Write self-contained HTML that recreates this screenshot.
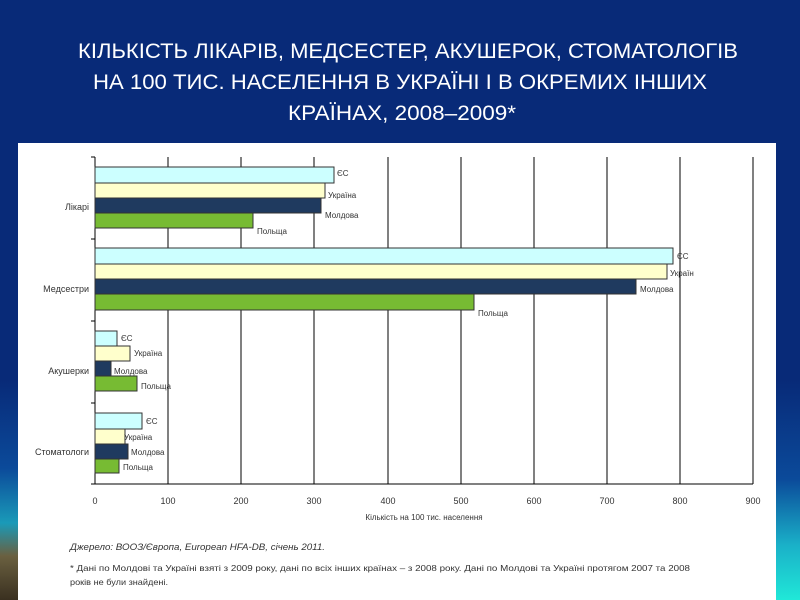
<!DOCTYPE html>
<html><head><meta charset="utf-8"><style>
html,body{margin:0;padding:0;width:800px;height:600px;overflow:hidden}
body{background:#082a78}
svg{display:block}
text{font-family:"Liberation Sans",sans-serif}
</style></head><body>
<svg width="800" height="600" xmlns="http://www.w3.org/2000/svg">
<defs>
<linearGradient id="lb" x1="0" y1="0" x2="0" y2="1"><stop offset="0" stop-color="#082a78"/><stop offset="0.4" stop-color="#0b4a9a"/><stop offset="0.65" stop-color="#1a9ab8"/><stop offset="0.8" stop-color="#6a6040"/><stop offset="1" stop-color="#3a3020"/></linearGradient>
<linearGradient id="rb" x1="0" y1="0" x2="0" y2="1"><stop offset="0" stop-color="#082a78"/><stop offset="0.45" stop-color="#0b4a9a"/><stop offset="0.75" stop-color="#1ab0c8"/><stop offset="1" stop-color="#20e8d8"/></linearGradient>
</defs>
<rect x="0" y="380" width="18" height="220" fill="url(#lb)"/>
<rect x="776" y="380" width="24" height="220" fill="url(#rb)"/>
<g fill="#fff" font-size="21" text-anchor="middle">
<text x="408" y="58" textLength="660" lengthAdjust="spacingAndGlyphs">КІЛЬКІСТЬ ЛІКАРІВ, МЕДСЕСТЕР, АКУШЕРОК, СТОМАТОЛОГІВ</text>
<text x="400" y="89" textLength="614" lengthAdjust="spacingAndGlyphs">НА 100 ТИС. НАСЕЛЕННЯ В УКРАЇНІ І В ОКРЕМИХ ІНШИХ</text>
<text x="402" y="120" textLength="228" lengthAdjust="spacingAndGlyphs">КРАЇНАХ, 2008–2009*</text>
</g>
<rect x="18" y="143" width="758" height="457" fill="#fff"/>
<g stroke="#000" stroke-width="1">
<line x1="168" y1="157" x2="168" y2="484"/><line x1="241" y1="157" x2="241" y2="484"/><line x1="314" y1="157" x2="314" y2="484"/><line x1="388" y1="157" x2="388" y2="484"/><line x1="461" y1="157" x2="461" y2="484"/><line x1="534" y1="157" x2="534" y2="484"/><line x1="607" y1="157" x2="607" y2="484"/><line x1="680" y1="157" x2="680" y2="484"/><line x1="753" y1="157" x2="753" y2="484"/>
<line x1="95" y1="157" x2="95" y2="484"/><line x1="95" y1="484" x2="753" y2="484"/>
<line x1="91" y1="157" x2="95" y2="157"/><line x1="91" y1="239" x2="95" y2="239"/><line x1="91" y1="321" x2="95" y2="321"/><line x1="91" y1="403" x2="95" y2="403"/><line x1="91" y1="484" x2="95" y2="484"/>
</g>
<g stroke="#333" stroke-width="1">
<rect x="95" y="167" width="239" height="16" fill="#ccffff"/>
<rect x="95" y="183" width="230" height="15" fill="#ffffcc"/>
<rect x="95" y="198" width="226" height="15" fill="#1f3a5f"/>
<rect x="95" y="213" width="158" height="15" fill="#77bb33"/>
<rect x="95" y="248" width="578" height="16" fill="#ccffff"/>
<rect x="95" y="264" width="572" height="15" fill="#ffffcc"/>
<rect x="95" y="279" width="541" height="15" fill="#1f3a5f"/>
<rect x="95" y="294" width="379" height="16" fill="#77bb33"/>
<rect x="95" y="331" width="22" height="15" fill="#ccffff"/>
<rect x="95" y="346" width="35" height="15" fill="#ffffcc"/>
<rect x="95" y="361" width="16" height="15" fill="#1f3a5f"/>
<rect x="95" y="376" width="42" height="15" fill="#77bb33"/>
<rect x="95" y="413" width="47" height="16" fill="#ccffff"/>
<rect x="95" y="429" width="30" height="15" fill="#ffffcc"/>
<rect x="95" y="444" width="33" height="15" fill="#1f3a5f"/>
<rect x="95" y="459" width="24" height="14" fill="#77bb33"/>
</g>
<g font-size="8" fill="#333">
<text x="337" y="176">ЄС</text><text x="328" y="198">Україна</text><text x="325" y="218">Молдова</text><text x="257" y="234">Польща</text>
<text x="677" y="259">ЄС</text><text x="670" y="276">Україн</text><text x="640" y="292">Молдова</text><text x="478" y="316">Польща</text>
<text x="121" y="341">ЄС</text><text x="134" y="356">Україна</text><text x="114" y="374">Молдова</text><text x="141" y="389">Польща</text>
<text x="146" y="424">ЄС</text><text x="124" y="440">Україна</text><text x="131" y="455">Молдова</text><text x="123" y="470">Польща</text>
</g>
<g font-size="9" fill="#333" text-anchor="end">
<text x="89" y="210">Лікарі</text><text x="89" y="292">Медсестри</text><text x="89" y="374">Акушерки</text><text x="89" y="455">Стоматологи</text>
</g>
<g font-size="9" fill="#333" text-anchor="middle">
<text x="95" y="504">0</text><text x="168" y="504">100</text><text x="241" y="504">200</text><text x="314" y="504">300</text><text x="388" y="504">400</text><text x="461" y="504">500</text><text x="534" y="504">600</text><text x="607" y="504">700</text><text x="680" y="504">800</text><text x="753" y="504">900</text>
<text x="424" y="520" font-size="8">Кількість на 100 тис. населення</text>
</g>
<text x="70" y="550" font-size="9" font-style="italic" fill="#333" textLength="255" lengthAdjust="spacingAndGlyphs">Джерело: ВООЗ/Європа, European HFA-DB, січень 2011.</text>
<text x="70" y="571" font-size="8.5" fill="#333" textLength="620" lengthAdjust="spacingAndGlyphs">* Дані по Молдові та Україні взяті з 2009 року, дані по всіх інших країнах – з 2008 року. Дані по Молдові та Україні протягом 2007 та 2008</text>
<text x="70" y="585" font-size="8.5" fill="#333" textLength="98" lengthAdjust="spacingAndGlyphs">років не були знайдені.</text>
</svg>
</body></html>
